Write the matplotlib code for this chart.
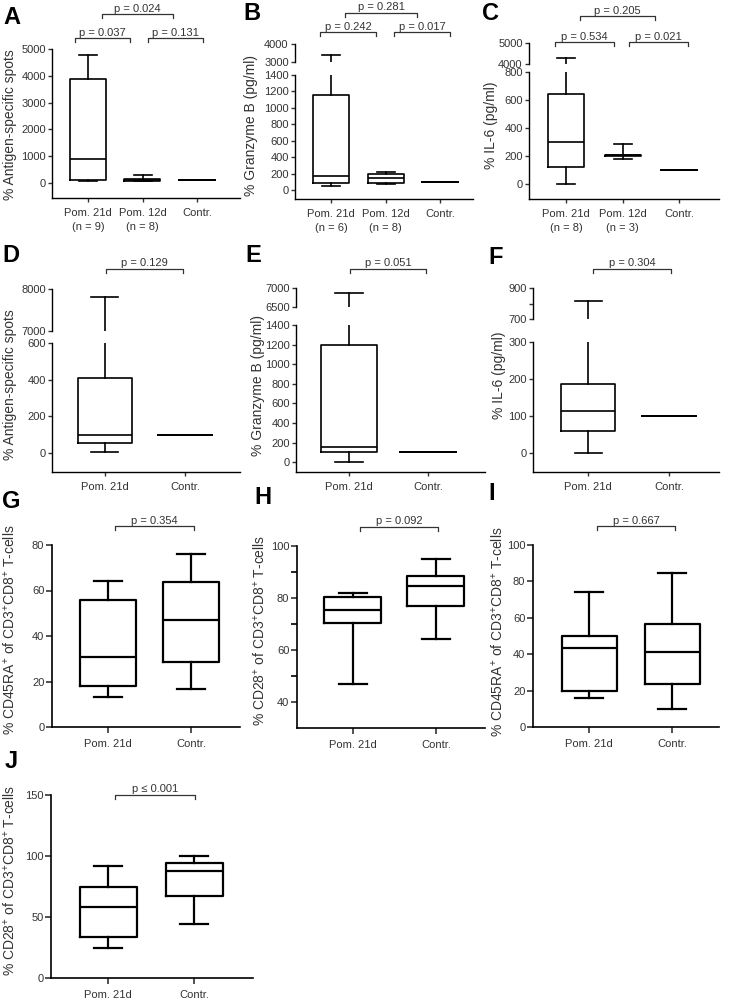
import matplotlib
matplotlib.use("Agg")
import matplotlib.pyplot as plt

W, H = 729, 1000

plt.rcParams['font.family'] = ['Liberation Sans', 'DejaVu Sans']
plt.rcParams['mathtext.fontset'] = 'custom'
plt.rcParams['mathtext.rm'] = 'Liberation Sans'
plt.rcParams['mathtext.it'] = 'Liberation Sans:italic'
plt.rcParams['mathtext.bf'] = 'Liberation Sans:bold'

# group names
groups3 = ["Pom. 21d", "Pom. 12d", "Contr."]
groups2 = ["Pom. 21d", "Contr."]
n_spots = [9, 8]
n_granzyme = [6, 8]
n_il6 = [8, 3]

# box stats per group: (whisker low, Q1, median, Q3, whisker high)
spots3 = [(60, 100, 895, 3890, 4790), (60, 90, 130, 160, 290), (100, 100, 100, 100, 100)]
granzyme3 = [(48, 88, 172, 1160, 3415), (75, 90, 145, 195, 215), (100, 100, 100, 100, 100)]
il6_3 = [(0, 120, 300, 640, 4290), (180, 200, 205, 210, 286), (100, 100, 100, 100, 100)]
spots2 = [(5, 54, 99, 407, 7806), (100, 100, 100, 100, 100)]
granzyme2 = [(0, 102, 160, 1195, 6868), (100, 100, 100, 100, 100)]
il6_2 = [(0, 59, 114, 186, 818), (100, 100, 100, 100, 100)]
cd45ra_1 = [(13.2, 18.1, 30.7, 55.7, 64.3), (16.8, 28.4, 47.2, 63.7, 76.0)]
cd28_1 = [(47.1, 70.5, 75.4, 80.5, 81.8), (64.3, 77.0, 84.6, 88.4, 95.1)]
cd45ra_2 = [(15.9, 19.9, 43.3, 49.9, 74.4), (10.1, 23.6, 41.0, 56.7, 84.6)]
cd28_2 = [(24.5, 33.3, 57.8, 75.0, 91.9), (44.2, 67.4, 87.8, 94.1, 100.0)]

TXT = '#333333'

fig = plt.figure(figsize=(W / 100, H / 100), dpi=100)


def px_axes(x0, y0, x1, y1):
    ax = fig.add_axes([x0 / W, 1 - y1 / H, (x1 - x0) / W, (y1 - y0) / H])
    ax.patch.set_visible(False)
    return ax


def draw_boxes(ax, stats, width, lw):
    data = [dict(whislo=s[0], q1=s[1], med=s[2], q3=s[3], whishi=s[4], fliers=[])
            for s in stats]
    props = dict(color='k', linewidth=lw)
    ax.bxp(data, positions=list(range(1, len(stats) + 1)), widths=width,
           showfliers=False, manage_ticks=False,
           boxprops=props, whiskerprops=props, capprops=props,
           medianprops=props)


def style(ax, lw, tlen):
    ax.spines['top'].set_visible(False)
    ax.spines['right'].set_visible(False)
    ax.spines['left'].set_linewidth(lw)
    ax.spines['bottom'].set_linewidth(lw)
    ax.tick_params(axis='both', direction='out', length=tlen, width=lw,
                   labelsize=8, colors=TXT)
    ax.tick_params(axis='y', pad=1.5)
    ax.tick_params(axis='x', pad=4.5)


def panel(x0, x1, c1, cn, low, ylim, yticks, stats, labels, bw_px,
          lw=1.2, slw=1.0, tlen=3, upper=None, minor=None):
    n = len(stats)
    s = (cn - c1) / (n - 1)
    xlim = (1 - (c1 - x0) / s, n + (x1 - cn) / s)
    ax = px_axes(x0, low[0], x1, low[1])
    draw_boxes(ax, stats, bw_px / s, lw)
    ax.set_xlim(xlim)
    ax.set_ylim(ylim)
    style(ax, slw, tlen)
    ax.set_yticks(yticks)
    if minor:
        ax.set_yticks(minor, minor=True)
        ax.tick_params(axis='y', which='minor', length=tlen, width=slw)
    ax.set_xticks(list(range(1, n + 1)))
    ax.set_xticklabels(labels, linespacing=1.5)
    if upper:
        ut, ub, ulim, uticks, ulabels = upper
        axu = px_axes(x0, ut, x1, ub)
        draw_boxes(axu, stats, bw_px / s, lw)
        axu.set_xlim(xlim)
        axu.set_ylim(ulim)
        style(axu, slw, tlen)
        axu.spines['bottom'].set_visible(False)
        axu.set_xticks([])
        axu.set_yticks(uticks)
        axu.set_yticklabels(ulabels)
    return ax


lab3_spots = [f"{g}\n(n = {k})" for g, k in zip(groups3[:2], n_spots)] + [groups3[2]]
lab3_gran = [f"{g}\n(n = {k})" for g, k in zip(groups3[:2], n_granzyme)] + [groups3[2]]
lab3_il6 = [f"{g}\n(n = {k})" for g, k in zip(groups3[:2], n_il6)] + [groups3[2]]

# row 1
panel(52, 240, 88, 197, (49, 198), (-560, 5000), range(0, 5001, 1000),
      spots3, lab3_spots, 36)
panel(295, 473, 331, 440, (75, 199), (-110, 1400), range(0, 1401, 200),
      granzyme3, lab3_gran, 36,
      upper=(44, 62, (3000, 4000), [3000, 4000], ['3000', '4000']))
panel(529, 719, 566, 679, (72, 199), (-107, 800), range(0, 801, 200),
      il6_3, lab3_il6, 36,
      upper=(43, 64, (4000, 5000), [4000, 5000], ['4000', '5000']))

# row 2
panel(52, 240, 105, 185, (343, 472), (-104, 600), range(0, 601, 200),
      spots2, groups2, 54,
      upper=(289, 331, (7000, 8000), [7000, 8000], ['7000', '8000']))
panel(296, 485, 349, 428, (325, 472), (-100, 1400), range(0, 1401, 200),
      granzyme2, groups2, 56,
      upper=(288, 307, (6500, 7000), [6500, 7000], ['6500', '7000']))
panel(533, 719, 588, 669, (342, 472), (-51, 300), range(0, 301, 100),
      il6_2, groups2, 54,
      upper=(288, 319, (700, 900), [700, 800, 900], ['700', '', '900']))

# rows 3 and 4
panel(52, 240, 108, 191, (545, 727), (0, 80), range(0, 81, 20),
      cd45ra_1, groups2, 56, lw=1.6, slw=1.2, tlen=4)
panel(297, 485, 353, 436, (546, 728), (30, 100), range(40, 101, 20),
      cd28_1, groups2, 57, lw=1.6, slw=1.2, tlen=4, minor=[50, 70, 90])
panel(533, 719, 589, 672, (545, 727), (0, 100), range(0, 101, 20),
      cd45ra_2, groups2, 55, lw=1.6, slw=1.2, tlen=4)
panel(51, 253, 108, 194, (795, 978), (0, 150), range(0, 151, 50),
      cd28_2, groups2, 57, lw=1.6, slw=1.2, tlen=4)

# overlay for letters, labels and brackets (pixel coordinates)
ov = fig.add_axes([0, 0, 1, 1])
ov.set_xlim(0, W)
ov.set_ylim(H, 0)
ov.axis('off')

letters = [("A", 12, 17), ("B", 252, 14), ("C", 491, 13), ("D", 11, 256),
           ("E", 253, 255), ("F", 496, 257), ("G", 11, 502), ("H", 263, 497),
           ("I", 492, 493), ("J", 11, 762)]
for t, x, y in letters:
    ov.text(x, y, t, fontsize=17, fontweight='bold', ha='center', va='center')

cd45 = r"% CD45RA$^{+}$ of CD3$^{+}$CD8$^{+}$ T-cells"
cd28 = r"% CD28$^{+}$ of CD3$^{+}$CD8$^{+}$ T-cells"
ylabels = [("% Antigen-specific spots", 10, 125), ("% Granzyme B (pg/ml)", 251, 125),
           ("% IL-6 (pg/ml)", 491, 125), ("% Antigen-specific spots", 10, 385),
           ("% Granzyme B (pg/ml)", 258, 385), ("% IL-6 (pg/ml)", 499, 375),
           (cd45, 10, 630), (cd28, 260, 630), (cd45, 498, 632), (cd28, 10, 880)]
for t, x, y in ylabels:
    ov.text(x, y, t, fontsize=10, rotation=90, ha='center', va='center', color=TXT)

brackets = [(102, 173, 14, "p = 0.024"), (75, 130, 38, "p = 0.037"),
            (148, 203, 38, "p = 0.131"), (345, 417, 13, "p = 0.281"),
            (320, 376, 32, "p = 0.242"), (394, 450, 32, "p = 0.017"),
            (580, 655, 16, "p = 0.205"), (555, 614, 42, "p = 0.534"),
            (629, 688, 42, "p = 0.021"), (106, 183, 269, "p = 0.129"),
            (350, 426, 269, "p = 0.051"), (593, 671, 269, "p = 0.304"),
            (115, 194, 526, "p = 0.354"), (360, 438, 527, "p = 0.092"),
            (597, 675, 526, "p = 0.667"), (115, 195, 795, "p \u2264 0.001")]
for xa, xb, y, t in brackets:
    ov.plot([xa, xa, xb, xb], [y + 4, y, y, y + 4], color=TXT, lw=0.9)
    ov.text((xa + xb) / 2, y - 0.5, t, fontsize=8, ha='center', va='bottom', color=TXT)

fig.savefig("out.png", dpi=100)
